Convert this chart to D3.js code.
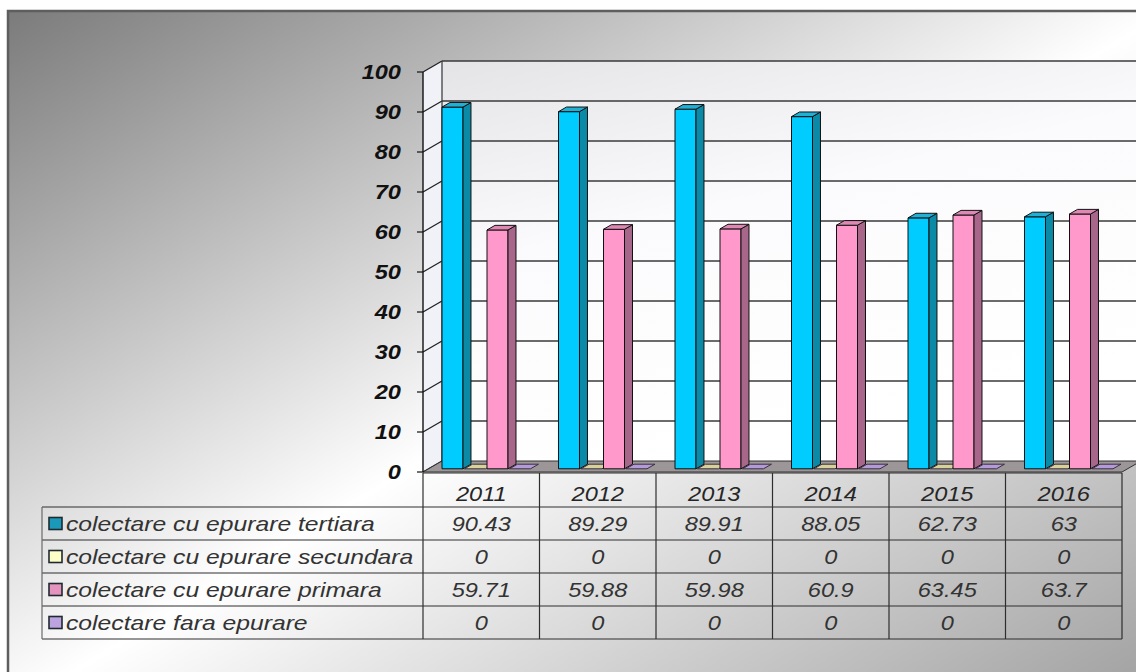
<!DOCTYPE html>
<html>
<head>
<meta charset="utf-8">
<script src="https://cdn.jsdelivr.net/npm/d3@7"></script>
<style>
  html, body { margin: 0; padding: 0; background: #fff; }
  svg { display: block; }
</style>
</head>
<body>
<svg id="chart" width="1136" height="672"></svg>
<script>
// data
var years = ['2011', '2012', '2013', '2014', '2015', '2016']
var seriesNames = [
  'colectare cu epurare tertiara',
  'colectare cu epurare secundara',
  'colectare cu epurare primara',
  'colectare fara epurare'
]
var tertiara = [90.43, 89.29, 89.91, 88.05, 62.73, 63]
var secundara = [0, 0, 0, 0, 0, 0]
var primara = [59.71, 59.88, 59.98, 60.9, 63.45, 63.7]
var fara = [0, 0, 0, 0, 0, 0]
var yTicks = [0, 10, 20, 30, 40, 50, 60, 70, 80, 90, 100]

var seriesValues = [tertiara, secundara, primara, fara]
// face colours per series: front, side, top, key
var palette = [
  {front: '#00ccff', side: '#0a8aa6', top: '#1fb0d6', key: '#1a9ab8'},
  {front: '#ffffcc', side: '#a8a070', top: '#d8d29a', key: '#ffffc8'},
  {front: '#ff99cc', side: '#a8678a', top: '#df88b4', key: '#e494be'},
  {front: '#ccb3f0', side: '#8a72a8', top: '#b49ad8', key: '#bda2e0'}
]

var svg = d3.select('#chart')
var defs = svg.append('defs')

var bg = defs.append('linearGradient').attr('id', 'bg')
  .attr('x1', 0).attr('y1', 0).attr('x2', 1).attr('y2', 1)
bg.append('stop').attr('offset', 0).attr('stop-color', '#7b7b7b')
bg.append('stop').attr('offset', 0.5).attr('stop-color', '#ffffff')
bg.append('stop').attr('offset', 1).attr('stop-color', '#9c9c9c')

var wall = defs.append('linearGradient').attr('id', 'wall')
  .attr('x1', 0).attr('y1', 0).attr('x2', 0.4).attr('y2', 1)
wall.append('stop').attr('offset', 0).attr('stop-color', '#e4e4e6')
wall.append('stop').attr('offset', 0.45).attr('stop-color', '#fbfbfd')
wall.append('stop').attr('offset', 1).attr('stop-color', '#ffffff')

// chart area frame with diagonal gradient
svg.append('rect')
  .attr('x', 8).attr('y', 11).attr('width', 1160).attr('height', 700)
  .attr('fill', 'url(#bg)')
  .attr('stroke', '#5e5e5e').attr('stroke-width', 2.5)

// geometry of the 3d box
var x0 = 423
var x1 = 1122
var depth = {x: 19, y: -11}
var y = d3.scaleLinear().domain([0, 100]).range([472, 72])
var x = d3.scaleBand().domain(years).range([x0, x1])
var xs = d3.scaleBand().domain(d3.range(seriesNames.length))
  .range([13.5, 102]).paddingInner(0.067)
var barFront = 0.29   // depth fraction where bar fronts sit
var barDepth = 0.42   // depth fraction covered by a bar

function pts (arr) { return arr.map(function (p) { return p[0] + ',' + p[1] }).join(' ') }

var g = svg.append('g')

// side wall and back wall
g.append('polygon')
  .attr('points', pts([[x0, y(0)], [x0, y(100)], [x0 + depth.x, y(100) + depth.y], [x0 + depth.x, y(0) + depth.y]]))
  .attr('fill', '#f1f1f8').attr('stroke', 'none')
g.append('rect')
  .attr('x', x0 + depth.x).attr('y', y(100) + depth.y)
  .attr('width', x1 - x0).attr('height', y(0) - y(100))
  .attr('fill', 'url(#wall)')

// gridlines on back and side walls
yTicks.forEach(function (t) {
  var yy = y(t)
  if (t > 0) {
    g.append('line')
      .attr('x1', x0 + depth.x).attr('x2', x1 + depth.x)
      .attr('y1', yy + depth.y).attr('y2', yy + depth.y)
      .attr('stroke', '#3a3a3a').attr('stroke-width', 1.6)
  }
  g.append('line')
    .attr('x1', x0).attr('x2', x0 + depth.x)
    .attr('y1', yy).attr('y2', yy + depth.y)
    .attr('stroke', '#222').attr('stroke-width', 1.3)
})
g.append('line')
  .attr('x1', x0 + depth.x).attr('x2', x0 + depth.x)
  .attr('y1', y(0) + depth.y).attr('y2', y(100) + depth.y)
  .attr('stroke', '#333').attr('stroke-width', 1.2)

// floor
g.append('polygon')
  .attr('points', pts([[x0, y(0)], [x1, y(0)], [x1 + depth.x, y(0) + depth.y], [x0 + depth.x, y(0) + depth.y]]))
  .attr('fill', '#9c9699').attr('stroke', '#333').attr('stroke-width', 1)

// bars
var bars = []
years.forEach(function (yr, c) {
  seriesValues.forEach(function (vals, s) {
    bars.push({year: yr, s: s, v: vals[c]})
  })
})

var ox = depth.x * barFront
var oy = depth.y * barFront
var dx = depth.x * barDepth
var dy = depth.y * barDepth

var barG = g.append('g')
bars.forEach(function (d) {
  var bx = x(d.year) + xs(d.s) + ox
  var bw = xs.bandwidth()
  var yb = y(0) + oy
  var yt = y(d.v) + oy
  var col = palette[d.s]
  var bg1 = barG.append('g').attr('stroke', '#111').attr('stroke-width', 1).attr('stroke-linejoin', 'round')
  if (d.v > 0) {
    bg1.append('rect').attr('x', bx).attr('y', yt).attr('width', bw).attr('height', yb - yt)
      .attr('fill', col.front)
    bg1.append('polygon')
      .attr('points', pts([[bx + bw, yb], [bx + bw, yt], [bx + bw + dx, yt + dy], [bx + bw + dx, yb + dy]]))
      .attr('fill', col.side)
  }
  bg1.append('polygon')
    .attr('points', pts([[bx, yt], [bx + bw, yt], [bx + bw + dx, yt + dy], [bx + dx, yt + dy]]))
    .attr('fill', col.top).attr('stroke', d.v > 0 ? '#111' : '#3a3040')
})

// front value axis
g.append('line')
  .attr('x1', x0).attr('x2', x0).attr('y1', y(0)).attr('y2', y(100))
  .attr('stroke', '#111').attr('stroke-width', 1.4)

var sx = 1.18
function stretched (sel, px, py, k) {
  return sel.attr('transform', 'translate(' + px + ',' + py + ') scale(' + (k || sx) + ',1)')
}

yTicks.forEach(function (t) {
  g.append('line')
    .attr('x1', x0 - 6).attr('x2', x0).attr('y1', y(t)).attr('y2', y(t))
    .attr('stroke', '#111').attr('stroke-width', 1.2)
  stretched(g.append('text'), 401, y(t) + 7)
    .attr('text-anchor', 'end')
    .attr('font-family', 'Liberation Sans, Arial, sans-serif')
    .attr('font-size', 20).attr('font-weight', 'bold').attr('font-style', 'italic')
    .attr('fill', '#111')
    .text(t)
})

// data table
var rowTop = 507
var rowH = 33
var tableLeft = 42
var tbl = svg.append('g').attr('stroke', '#2e2e2e').attr('stroke-width', 1.2)

// header row borders
tbl.append('line').attr('x1', x0).attr('x2', x1).attr('y1', 473).attr('y2', 473)
x.domain().forEach(function (yr) {
  tbl.append('line').attr('x1', x(yr)).attr('x2', x(yr)).attr('y1', 473).attr('y2', rowTop + rowH * seriesNames.length)
})
tbl.append('line').attr('x1', x1).attr('x2', x1).attr('y1', 473).attr('y2', rowTop + rowH * seriesNames.length)
d3.range(seriesNames.length + 1).forEach(function (r) {
  tbl.append('line')
    .attr('x1', tableLeft).attr('x2', x1)
    .attr('y1', rowTop + r * rowH).attr('y2', rowTop + r * rowH)
})
tbl.append('line').attr('x1', tableLeft).attr('x2', tableLeft)
  .attr('y1', rowTop).attr('y2', rowTop + rowH * seriesNames.length)
  .attr('stroke', '#6a6a6a')

var font = 'Liberation Sans, Arial, sans-serif'
years.forEach(function (yr) {
  stretched(svg.append('text'), x(yr) + x.bandwidth() / 2, 501)
    .attr('text-anchor', 'middle')
    .attr('font-family', font).attr('font-size', 20).attr('font-style', 'italic')
    .attr('fill', '#262626')
    .text(yr)
})

seriesNames.forEach(function (name, r) {
  var cy = rowTop + r * rowH + rowH / 2
  svg.append('rect')
    .attr('x', 49).attr('y', cy - 6).attr('width', 13).attr('height', 12)
    .attr('fill', palette[r].key).attr('stroke', '#1e2a30').attr('stroke-width', 1.6)
  stretched(svg.append('text'), 66, cy + 7, 1.235)
    .attr('font-family', font).attr('font-size', 20).attr('font-style', 'italic')
    .attr('fill', '#333')
    .text(name)
  seriesValues[r].forEach(function (v, c) {
    stretched(svg.append('text'), x(years[c]) + x.bandwidth() / 2, cy + 7)
      .attr('text-anchor', 'middle')
      .attr('font-family', font).attr('font-size', 20).attr('font-style', 'italic')
      .attr('fill', '#333')
      .text(String(v))
  })
})
</script>
</body>
</html>
